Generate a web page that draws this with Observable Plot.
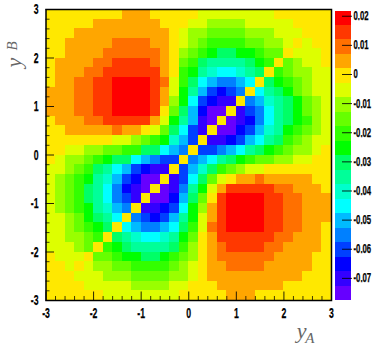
<!DOCTYPE html>
<html><head><meta charset="utf-8">
<script src="https://cdn.jsdelivr.net/npm/d3@7"></script>
<script src="https://cdn.jsdelivr.net/npm/@observablehq/plot@0.6"></script>
<style>
html,body{margin:0;padding:0;background:#fff}
#wrap{display:flex;width:382px;height:354px;overflow:hidden}
svg{display:block;flex:none;overflow:visible}
</style></head><body><div id="wrap"></div>
<script>
const palette=["#6600ff","#3300ff","#0000ff","#0040ff","#0080ff","#00bbff","#00ffff","#00ffcc","#00ff99","#00ff66","#00ff00","#33ff00","#66ff00","#99ff00","#ddff00","#ffe800","#ffa600","#ff7000","#ff3800","#ff0000"];
const zBottom=-0.0776, zStep=0.00497;
const xTicks=[-3,-2,-1,0,1,2,3];
const minorTicks=[-2.8,-2.6,-2.4,-2.2,-1.8,-1.6,-1.4,-1.2,-0.8,-0.6,-0.4,-0.2,0.2,0.4,0.6,0.8,1.2,1.4,1.6,1.8,2.2,2.4,2.6,2.8];
const zTicks=[0.02,0.01,0,-0.01,-0.02,-0.03,-0.04,-0.05,-0.06,-0.07];
// colour band of every cell, top row (y=3) first, left column (x=-3) first
const bands=[
[15,15,15,15,15,15,15,15,16,16,16,15,15,15,15,15,14,14,14,14,14,14,14,14,15,15,15,15,15,15],
[15,15,15,15,15,16,16,16,16,16,16,16,15,15,15,14,14,13,13,13,13,14,14,14,14,14,15,15,15,15],
[15,15,15,16,16,16,16,16,16,16,16,16,16,15,14,13,13,12,12,12,12,13,13,13,14,14,14,15,15,15],
[15,15,16,16,16,16,16,17,17,17,17,16,16,15,14,13,12,11,11,11,11,12,12,13,13,14,15,14,15,15],
[15,15,16,16,16,16,17,17,17,17,17,17,16,15,13,12,11,10,9,9,10,10,11,12,12,15,14,14,14,15],
[15,16,16,16,16,17,17,18,18,18,18,17,16,15,12,11,9,8,8,8,8,9,10,11,15,12,13,14,14,15],
[15,16,16,16,17,17,18,18,18,18,18,18,16,15,11,10,8,7,6,6,7,8,9,15,11,12,13,13,14,14],
[15,16,16,17,17,18,18,19,19,19,19,18,17,14,11,9,6,5,4,4,5,6,15,9,10,11,12,13,14,14],
[16,16,16,17,17,18,18,19,19,19,19,18,16,14,10,8,5,3,2,3,4,15,6,8,9,10,12,13,14,14],
[16,16,16,17,17,18,18,19,19,19,19,18,16,13,10,6,3,2,1,1,15,4,5,7,8,9,10,12,13,14],
[16,16,16,17,17,18,18,19,19,19,19,18,15,12,9,5,2,0,0,15,1,3,4,6,8,9,10,12,13,14],
[15,16,16,16,17,17,18,18,18,18,18,16,14,10,8,5,1,0,15,0,1,2,4,6,8,9,10,11,13,14],
[15,15,16,16,16,16,16,17,16,16,15,14,12,9,6,3,1,15,0,0,2,3,5,7,8,10,11,12,13,14],
[15,15,15,15,15,15,15,14,14,13,12,11,10,7,5,3,15,1,1,2,3,5,6,8,9,11,12,13,14,14],
[15,15,14,14,13,13,12,12,11,11,9,9,6,5,4,15,3,3,4,5,6,8,9,10,11,12,13,13,14,15],
[15,14,13,13,12,11,10,9,9,6,5,4,3,3,15,4,5,6,8,9,10,11,12,12,13,13,14,14,15,15],
[14,14,13,12,11,9,8,6,5,3,2,1,1,15,3,5,7,9,11,12,13,14,14,15,15,15,15,15,15,15],
[14,13,12,11,10,8,7,5,3,2,0,0,15,1,3,6,9,12,14,15,16,16,17,16,16,16,16,16,15,15],
[14,13,12,11,9,8,6,4,2,1,0,15,0,1,4,8,10,14,16,18,18,18,18,18,17,17,16,16,16,15],
[14,13,12,11,9,8,6,4,3,1,15,0,0,2,5,9,12,15,18,19,19,19,19,18,18,17,17,16,16,16],
[14,13,12,11,10,8,7,5,4,15,1,1,2,3,6,10,13,16,18,19,19,19,19,18,18,17,17,16,16,16],
[14,14,13,12,10,9,8,6,15,4,3,2,3,5,8,10,14,16,18,19,19,19,19,18,18,17,17,16,16,16],
[14,14,13,12,11,10,9,15,6,5,4,4,5,6,9,11,14,17,18,19,19,19,19,18,18,17,17,16,16,15],
[14,14,13,13,12,11,15,9,8,7,6,6,7,8,10,12,15,16,18,18,18,18,18,18,17,17,16,16,16,15],
[14,14,14,13,12,15,11,10,9,8,8,8,8,9,11,13,15,16,17,18,18,18,18,17,17,16,16,16,16,15],
[15,14,14,14,15,12,12,11,10,10,9,9,10,11,12,13,15,16,17,17,17,17,17,17,16,16,16,16,15,15],
[15,15,14,15,14,13,13,12,12,11,11,11,11,12,13,14,15,16,16,17,17,17,17,16,16,16,16,16,15,15],
[15,15,15,14,14,14,13,13,13,12,12,12,12,13,13,14,15,16,16,16,16,16,16,16,16,16,16,15,15,15],
[15,15,15,15,14,14,14,14,14,13,13,13,13,14,14,15,15,15,16,16,16,16,16,16,16,15,15,15,15,15],
[15,15,15,15,15,15,14,14,14,14,14,14,14,14,15,15,15,15,15,16,16,16,15,15,15,15,15,15,15,15]
];
const cellSize=0.2;
const cells=bands.flatMap((row,r)=>row.map((b,c)=>({
  x1:-3+c*cellSize,x2:-3+(c+1)*cellSize,y1:3-(r+1)*cellSize,y2:3-r*cellSize,
  z:zBottom+(b+0.5)*zStep})));
const edges=d3.range(1,20).map(i=>zBottom+i*zStep);
const color={type:"threshold",domain:edges,range:palette};
const font="'Liberation Sans',sans-serif";
const axisStyle={fontFamily:font,fontWeight:"bold",fill:"#000"};
const serif={fontFamily:"'Liberation Serif',serif",fontStyle:"italic",fill:"#666"};
const main=Plot.plot({
  width:335,height:354,marginLeft:45.5,marginRight:4,marginTop:9,marginBottom:54,
  style:{background:"transparent",overflow:"visible"},
  x:{domain:[-3,3],axis:null},y:{domain:[-3,3],axis:null},color,
  marks:[
    Plot.rect(cells,{x1:"x1",x2:"x2",y1:"y1",y2:"y2",fill:"z",inset:0,shapeRendering:"crispEdges"}),
    Plot.axisX(minorTicks,{tickSize:-4,tickFormat:()=>"",anchor:"bottom",stroke:"#000",strokeOpacity:0.75}),
    Plot.axisX(xTicks,{tickSize:-8.5,tickPadding:16,tickFormat:d=>String(d),anchor:"bottom",stroke:"#000",strokeOpacity:0.85,...axisStyle}),
    Plot.axisY(minorTicks,{tickSize:-4,tickFormat:()=>"",anchor:"left",stroke:"#000",strokeOpacity:0.75}),
    Plot.axisY(xTicks,{tickSize:-8.5,tickPadding:16,tickFormat:d=>String(d),anchor:"left",stroke:"#000",strokeOpacity:0.85,...axisStyle}),
    Plot.frame({stroke:"#000",strokeWidth:1.5}),
    Plot.text(["y"],{frameAnchor:"bottom-right",dx:-25,dy:37,fontSize:22,...serif}),
    Plot.text(["A"],{frameAnchor:"bottom-right",dx:-17,dy:42,fontSize:15,...serif}),
    Plot.text(["y"],{frameAnchor:"top-left",dx:-41,dy:58,rotate:-90,fontSize:22,...serif}),
    Plot.text(["B"],{frameAnchor:"top-left",dx:-40,dy:41,rotate:-90,fontSize:15,...serif})
  ]
});
const barRects=palette.map((_,i)=>({y1:zBottom+i*zStep,y2:zBottom+(i+1)*zStep,z:zBottom+(i+0.5)*zStep}));
const bar=Plot.plot({
  width:47,height:354,marginLeft:0,marginRight:31,marginTop:10.5,marginBottom:54,
  style:{background:"transparent",overflow:"visible"},
  x:{axis:null,domain:[0,1]},y:{domain:[zBottom,zBottom+20*zStep],axis:null},color,
  marks:[
    Plot.rect(barRects,{x1:0,x2:1,y1:"y1",y2:"y2",fill:"z",shapeRendering:"crispEdges"}),
    Plot.axisY(zTicks,{anchor:"right",tickSize:-10,tickPadding:12,textAnchor:"start",tickFormat:d=>String(d),stroke:"#000",strokeOpacity:0.85,...axisStyle})
  ]
});
const wrap=document.getElementById("wrap");
wrap.append(main,bar);
// the reference's tick labels are a tall condensed bold: enlarge, then narrow the real text
function condense(svg,size,ratio){
  svg.querySelectorAll('g[aria-label$="tick label"] text').forEach(t=>{
    t.style.fontSize=size+"px";
    t.style.stroke="#000";t.style.strokeWidth="0.25px";
    const n=t.getComputedTextLength();
    if(n>0){t.setAttribute("textLength",n*ratio);t.setAttribute("lengthAdjust","spacingAndGlyphs");}
  });
}
condense(main,14.5,0.6);
condense(bar,12.5,0.62);
</script></body></html>
